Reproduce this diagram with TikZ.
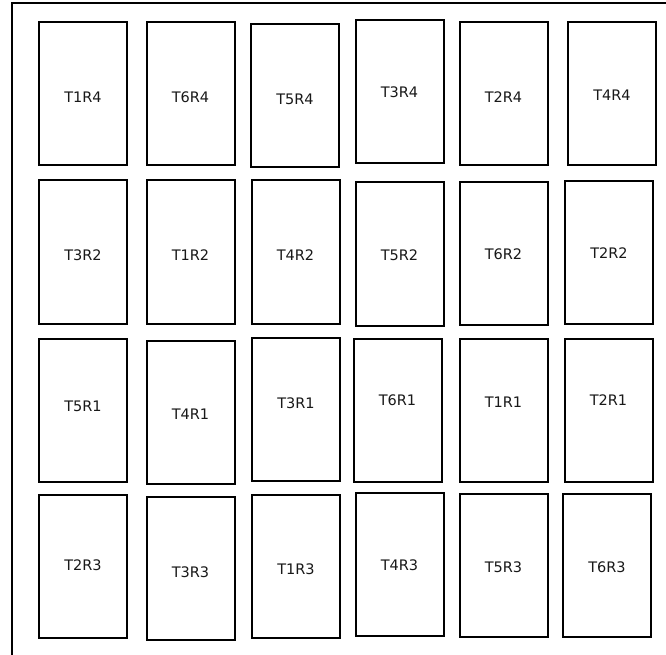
\documentclass[tikz,border=0pt]{standalone}
\usepackage{fontspec}
\setmainfont{DejaVu Sans}
\begin{document}
\begin{tikzpicture}[x=1pt,y=-1pt,
  tile/.style={draw=black,line width=2pt,fill=white,minimum width=88pt,minimum height=143pt,inner sep=0pt},
  tag/.style={font=\fontsize{14.5}{16}\selectfont,text=black!90,inner sep=0pt},
  frame/.style={draw=black,line width=2pt}]
\useasboundingbox (0,0) rectangle (666,655);
\coordinate (fb) at (12,660);
\coordinate (fc) at (12,3);
\coordinate (fr) at (670,3);
\draw[frame] (fb) -- (fc) -- (fr);
% row 1
\node[tile,label={[tag,yshift=-3pt]center:T1R4}] (T1R4) at (83,94) {};
\node[tile,label={[tag,yshift=-3pt]center:T6R4}] (T6R4) at (190.5,94) {};
\node[tile,label={[tag,yshift=-3pt]center:T5R4}] (T5R4) at (295,96) {};
\node[tile,label={[tag,yshift=0pt]center:T3R4}] (T3R4) at (399.5,92) {};
\node[tile,label={[tag,yshift=-3pt]center:T2R4}] (T2R4) at (503.5,94) {};
\node[tile,label={[tag,yshift=-1pt]center:T4R4}] (T4R4) at (612,94) {};
% row 2
\node[tile,label={[tag,yshift=-3pt]center:T3R2}] (T3R2) at (83,252) {};
\node[tile,label={[tag,yshift=-3pt]center:T1R2}] (T1R2) at (190.5,252) {};
\node[tile,label={[tag,yshift=-3pt]center:T4R2}] (T4R2) at (295.5,252) {};
\node[tile,label={[tag,yshift=-1pt]center:T5R2}] (T5R2) at (399.5,254) {};
\node[tile,label={[tag,yshift=-1pt]center:T6R2}] (T6R2) at (503.5,253.5) {};
\node[tile,label={[tag,yshift=-1pt]center:T2R2}] (T2R2) at (609,252.5) {};
% row 3
\node[tile,label={[tag,yshift=4pt]center:T5R1}] (T5R1) at (83,410) {};
\node[tile,label={[tag,yshift=-2pt]center:T4R1}] (T4R1) at (190.5,412) {};
\node[tile,label={[tag,yshift=6pt]center:T3R1}] (T3R1) at (296,409.5) {};
\node[tile,label={[tag,yshift=10pt]center:T6R1}] (T6R1) at (397.5,410) {};
\node[tile,label={[tag,yshift=8pt]center:T1R1}] (T1R1) at (503.5,410) {};
\node[tile,label={[tag,yshift=10pt]center:T2R1}] (T2R1) at (608.5,410) {};
% row 4
\node[tile,label={[tag,yshift=1.5pt]center:T2R3}] (T2R3) at (83,566.5) {};
\node[tile,label={[tag,yshift=-4pt]center:T3R3}] (T3R3) at (190.5,568) {};
\node[tile,label={[tag,yshift=-2.5pt]center:T1R3}] (T1R3) at (296,566.5) {};
\node[tile,label={[tag,yshift=-0.5pt]center:T4R3}] (T4R3) at (399.5,564.5) {};
\node[tile,label={[tag,yshift=-1.5pt]center:T5R3}] (T5R3) at (503.5,565.5) {};
\node[tile,label={[tag,yshift=-1.5pt]center:T6R3}] (T6R3) at (607,565.5) {};
\end{tikzpicture}
\end{document}
